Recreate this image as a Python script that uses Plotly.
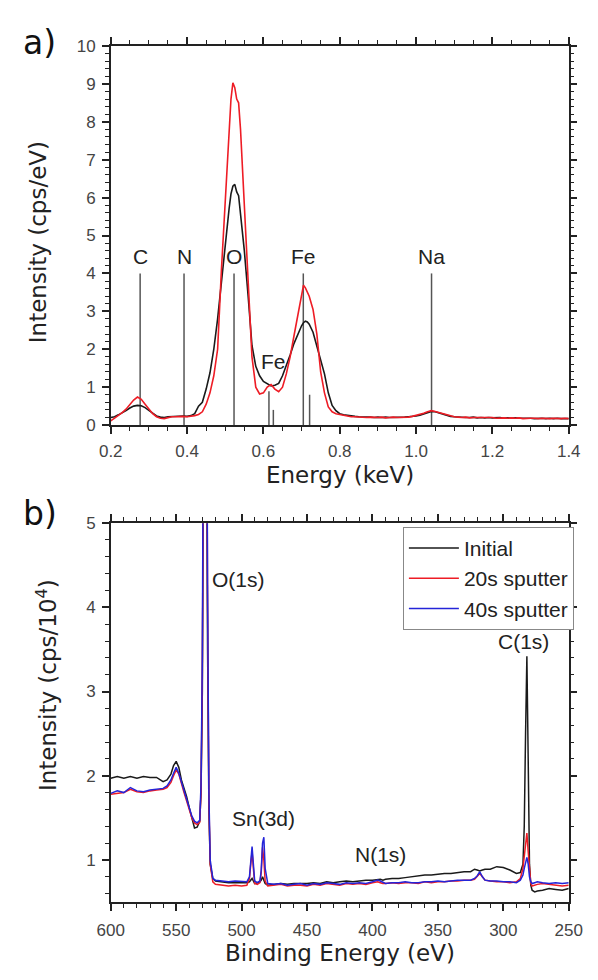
import plotly.graph_objects as go

# ---------------- (a) EDS spectrum ----------------
energy_kev = [
    0.20, 0.21, 0.22, 0.23, 0.24, 0.25, 0.26, 0.27, 0.28, 0.29,
    0.30, 0.31, 0.32, 0.33, 0.34, 0.35, 0.36, 0.37, 0.38, 0.39,
    0.40, 0.41, 0.42, 0.43, 0.44, 0.45, 0.46, 0.47, 0.48, 0.49,
    0.50, 0.51, 0.515, 0.52, 0.525, 0.53, 0.535, 0.54, 0.55, 0.56,
    0.57, 0.58, 0.59, 0.60, 0.61, 0.62, 0.63, 0.64, 0.65, 0.66,
    0.67, 0.68, 0.69, 0.70, 0.705, 0.71, 0.715, 0.72, 0.73, 0.74,
    0.75, 0.76, 0.77, 0.78, 0.79, 0.80, 0.81, 0.82, 0.83, 0.84,
    0.85, 0.86, 0.87, 0.88, 0.89, 0.90, 0.91, 0.92, 0.93, 0.94,
    0.95, 0.96, 0.97, 0.98, 0.99, 1.00, 1.01, 1.02, 1.03, 1.04,
    1.05, 1.06, 1.07, 1.08, 1.09, 1.10, 1.11, 1.12, 1.13, 1.14,
    1.15, 1.16, 1.17, 1.18, 1.19, 1.20, 1.21, 1.22, 1.23, 1.24,
    1.25, 1.26, 1.27, 1.28, 1.29, 1.30, 1.31, 1.32, 1.33, 1.34,
    1.35, 1.36, 1.37, 1.38, 1.39, 1.40,
]
eds_black = [
    0.20, 0.22, 0.27, 0.32, 0.38, 0.45, 0.50, 0.52, 0.51, 0.46,
    0.38, 0.30, 0.24, 0.21, 0.20, 0.22, 0.23, 0.22, 0.24, 0.24,
    0.23, 0.25, 0.30, 0.50, 0.60, 0.95, 1.38, 2.00, 2.80, 3.80,
    4.80, 5.70, 6.10, 6.30, 6.35, 6.15, 6.05, 5.60, 4.60, 3.40,
    2.10, 1.55, 1.30, 1.15, 1.08, 1.03, 1.05, 1.10, 1.30, 1.55,
    1.85, 2.15, 2.40, 2.62, 2.70, 2.74, 2.72, 2.66, 2.45, 2.10,
    1.75, 1.35, 0.85, 0.52, 0.38, 0.30, 0.27, 0.25, 0.24, 0.23,
    0.22, 0.22, 0.21, 0.21, 0.20, 0.21, 0.20, 0.21, 0.20, 0.20,
    0.21, 0.20, 0.21, 0.22, 0.22, 0.24, 0.26, 0.29, 0.33, 0.36,
    0.35, 0.32, 0.28, 0.25, 0.23, 0.22, 0.21, 0.21, 0.20, 0.20,
    0.21, 0.19, 0.20, 0.19, 0.20, 0.19, 0.19, 0.20, 0.18, 0.19,
    0.18, 0.19, 0.18, 0.18, 0.19, 0.18, 0.17, 0.18, 0.18, 0.17,
    0.18, 0.17, 0.18, 0.17, 0.17, 0.17,
]
eds_red = [
    0.11, 0.18, 0.25, 0.33, 0.42, 0.55, 0.66, 0.74, 0.68, 0.55,
    0.42, 0.30, 0.22, 0.18, 0.17, 0.20, 0.22, 0.22, 0.23, 0.23,
    0.22, 0.23, 0.25, 0.28, 0.35, 0.55, 0.85, 1.30, 2.00, 4.10,
    6.00, 7.80, 8.60, 9.03, 8.90, 8.60, 8.50, 7.80, 5.90, 3.80,
    1.80, 1.00, 0.82, 0.85, 1.00, 1.07, 0.95, 0.88, 1.00, 1.35,
    1.80, 2.35, 2.90, 3.45, 3.69, 3.62, 3.50, 3.40, 3.05, 2.40,
    1.40, 0.85, 0.48, 0.35, 0.30, 0.28, 0.25, 0.23, 0.22, 0.22,
    0.21, 0.21, 0.20, 0.21, 0.20, 0.20, 0.21, 0.19, 0.20, 0.21,
    0.20, 0.20, 0.21, 0.21, 0.23, 0.25, 0.27, 0.31, 0.35, 0.38,
    0.36, 0.33, 0.29, 0.26, 0.23, 0.22, 0.21, 0.20, 0.21, 0.19,
    0.20, 0.20, 0.19, 0.20, 0.19, 0.20, 0.18, 0.19, 0.19, 0.18,
    0.19, 0.18, 0.19, 0.17, 0.18, 0.18, 0.18, 0.17, 0.18, 0.17,
    0.17, 0.18, 0.17, 0.17, 0.18, 0.17,
]

# characteristic X-ray line markers (position keV, marker height)
line_pos = [0.277, 0.392, 0.523, 0.6145, 0.626, 0.7045, 0.721, 1.0405]
line_height = [4.0, 4.0, 4.0, 0.89, 0.40, 4.0, 0.80, 4.0]
line_labels = ["C", "N", "O", "Fe", "Fe", "Na"]
label_x = [0.277, 0.392, 0.523, 0.6275, 0.7045, 1.0405]
label_y = [4.45, 4.45, 4.45, 1.68, 4.45, 4.45]

# ---------------- (b) XPS survey ----------------
binding_ev = [
    600, 595, 590, 585, 580, 575, 570, 565, 560, 557,
    554, 552, 550, 548, 546, 544, 542, 540, 538, 536,
    534, 532, 531, 530, 529, 528, 527, 526, 525, 524,
    522, 520, 515, 510, 505, 500, 496, 494, 493, 492,
    491, 490, 488, 486, 485, 484, 483, 482, 480, 475,
    470, 465, 460, 455, 450, 445, 440, 435, 430, 425,
    420, 415, 410, 405, 400, 396, 394, 392, 390, 385,
    380, 375, 370, 365, 360, 355, 350, 345, 340, 335,
    330, 325, 322, 320, 318, 316, 314, 310, 305, 300,
    295, 290, 287, 285, 284, 283, 282, 281, 280, 279,
    278, 276, 274, 270, 265, 260, 255, 250,
]
xps_initial = [
    1.97, 1.99, 1.97, 1.99, 1.97, 1.99, 1.98, 1.98, 1.93, 1.95,
    2.02, 2.12, 2.17, 2.10, 1.95, 1.85, 1.75, 1.62, 1.48, 1.38,
    1.39, 1.46, 1.80, 3.00, 6.50, 9.00, 7.00, 3.50, 1.60, 0.95,
    0.78, 0.75, 0.74, 0.73, 0.73, 0.73, 0.73, 0.74, 0.76, 0.78,
    0.75, 0.72, 0.73, 0.74, 0.76, 0.80, 0.76, 0.72, 0.70, 0.71,
    0.72, 0.71, 0.72, 0.72, 0.72, 0.73, 0.72, 0.74, 0.73, 0.74,
    0.75, 0.74, 0.75, 0.76, 0.76, 0.77, 0.77, 0.76, 0.77, 0.78,
    0.78, 0.79, 0.80, 0.81, 0.82, 0.82, 0.83, 0.84, 0.84, 0.85,
    0.86, 0.86, 0.89, 0.88, 0.87, 0.88, 0.89, 0.89, 0.92, 0.91,
    0.88, 0.84, 0.85, 0.95, 1.40, 2.50, 3.42, 2.20, 0.95, 0.70,
    0.64, 0.62, 0.63, 0.64, 0.66, 0.65, 0.64, 0.66,
]
xps_20s = [
    1.78, 1.79, 1.80, 1.84, 1.81, 1.80, 1.82, 1.83, 1.84, 1.86,
    1.92, 2.00, 2.07, 2.02, 1.90, 1.80, 1.70, 1.60, 1.50, 1.44,
    1.42, 1.45, 1.80, 3.20, 7.00, 10.0, 8.00, 4.00, 1.70, 0.95,
    0.74, 0.71, 0.70, 0.69, 0.70, 0.69, 0.70, 0.78, 0.95, 1.10,
    0.90, 0.72, 0.71, 0.73, 0.85, 1.15, 1.00, 0.75, 0.69, 0.70,
    0.71, 0.69, 0.70, 0.70, 0.69, 0.71, 0.70, 0.72, 0.71, 0.70,
    0.72, 0.71, 0.72, 0.71, 0.73, 0.74, 0.73, 0.72, 0.72, 0.73,
    0.72, 0.73, 0.73, 0.72, 0.74, 0.73, 0.74, 0.74, 0.75, 0.75,
    0.76, 0.76, 0.77, 0.80, 0.84, 0.80, 0.76, 0.75, 0.74, 0.74,
    0.73, 0.74, 0.78, 0.90, 1.05, 1.20, 1.32, 1.10, 0.85, 0.72,
    0.69, 0.70, 0.71, 0.72, 0.71, 0.70, 0.69, 0.70,
]
xps_40s = [
    1.79, 1.82, 1.80, 1.86, 1.82, 1.81, 1.83, 1.84, 1.85, 1.88,
    1.95, 2.03, 2.10, 2.03, 1.92, 1.82, 1.72, 1.62, 1.52, 1.46,
    1.44, 1.47, 1.90, 3.40, 7.50, 11.0, 8.50, 4.20, 1.80, 1.00,
    0.78, 0.76, 0.75, 0.74, 0.75, 0.74, 0.74, 0.80, 1.00, 1.16,
    0.95, 0.75, 0.73, 0.75, 0.88, 1.20, 1.27, 0.90, 0.72, 0.71,
    0.72, 0.70, 0.71, 0.72, 0.70, 0.72, 0.71, 0.73, 0.72, 0.71,
    0.73, 0.72, 0.73, 0.72, 0.74, 0.76, 0.75, 0.73, 0.72, 0.73,
    0.73, 0.74, 0.73, 0.73, 0.74, 0.74, 0.75, 0.74, 0.75, 0.76,
    0.76, 0.76, 0.78, 0.81, 0.86, 0.80, 0.76, 0.75, 0.75, 0.74,
    0.74, 0.73, 0.76, 0.82, 0.90, 0.98, 1.03, 0.95, 0.80, 0.74,
    0.72, 0.73, 0.74, 0.73, 0.72, 0.73, 0.72, 0.73,
]
xps_names = ["Initial", "20s sputter", "40s sputter"]
peak_labels = ["O(1s)", "Sn(3d)", "N(1s)", "C(1s)"]
peak_x = [502.0, 483.2, 393.9, 284.5]
peak_y = [4.33, 1.49, 1.07, 3.60]

BLACK = "#1a1a1a"
RED = "#ee1c25"
BLUE = "#2424d8"
AXIS = "#222222"
TICKFONT = dict(family="Liberation Sans, Arial, sans-serif", size=17, color="#444444")
LABELFONT = dict(family="Liberation Sans, Arial, sans-serif", size=21, color="#222222")
TITLEFONT = dict(family="DejaVu Sans, sans-serif", size=23, color="#222222")

fig = go.Figure()

# vertical element markers, one trace with gaps
vx, vy = [], []
for p, h in zip(line_pos, line_height):
    vx += [p, p, None]
    vy += [0, h, None]
fig.add_trace(go.Scatter(x=vx, y=vy, mode="lines", line=dict(color="#555555", width=1.5),
                         showlegend=False, hoverinfo="skip", xaxis="x", yaxis="y"))
fig.add_trace(go.Scatter(x=energy_kev, y=eds_black, mode="lines",
                         line=dict(color=BLACK, width=1.6), showlegend=False,
                         xaxis="x", yaxis="y"))
fig.add_trace(go.Scatter(x=energy_kev, y=eds_red, mode="lines",
                         line=dict(color=RED, width=1.6), showlegend=False,
                         xaxis="x", yaxis="y"))

for name, vals, col in zip(xps_names, [xps_initial, xps_20s, xps_40s], [BLACK, RED, BLUE]):
    fig.add_trace(go.Scatter(x=binding_ev, y=vals, mode="lines", name=name,
                             line=dict(color=col, width=1.5),
                             xaxis="x2", yaxis="y2"))


def axis_style(minor_step, **kw):
    base = dict(showline=True, linecolor=AXIS, linewidth=1.5, mirror="allticks",
                ticks="outside", ticklen=7, tickwidth=1.6, tickcolor=AXIS,
                showgrid=False, zeroline=False, tickfont=TICKFONT,
                ticklabelstandoff=3,
                minor=dict(ticks="outside", ticklen=4, tickwidth=1.3, tickcolor=AXIS,
                           dtick=minor_step))
    base.update(kw)
    return base


X_DOM = [101.5 / 598, 582 / 598]
fig.update_layout(
    width=598, height=980,
    margin=dict(l=0, r=0, t=0, b=0),
    paper_bgcolor="white", plot_bgcolor="white",
    xaxis=axis_style(0.05, domain=X_DOM, anchor="y", range=[0.2, 1.4], tick0=0.2,
                     dtick=0.2, tickformat=".1f"),
    yaxis=axis_style(0.2, domain=[1 - 424.3 / 980, 1 - 37.7 / 980], anchor="x",
                     range=[0, 10], tick0=0, dtick=1),
    xaxis2=axis_style(10, domain=X_DOM, anchor="y2", range=[600, 250], tick0=0, dtick=50,
                      ticklabelstandoff=5),
    yaxis2=axis_style(0.2, domain=[1 - 910.7 / 980, 1 - 524.3 / 980], anchor="x2",
                      range=[0.5, 5], tick0=0, dtick=1),
    legend=dict(x=408 / 598, y=1 - 528 / 980, xanchor="left", yanchor="top",
                bgcolor="white", bordercolor="#888888", borderwidth=1,
                font=dict(family="Liberation Sans, Arial, sans-serif", size=21, color="#222222"),
                tracegroupgap=0, itemwidth=50),
)

ann = []
for t, x, y in zip(line_labels, label_x, label_y):
    ann.append(dict(text=t, x=x, y=y, xref="x", yref="y", showarrow=False,
                    font=LABELFONT, xanchor="center", yanchor="middle"))
for t, x, y in zip(peak_labels, peak_x, peak_y):
    ann.append(dict(text=t, x=x, y=y, xref="x2", yref="y2", showarrow=False,
                    font=LABELFONT, xanchor="center", yanchor="middle"))

# axis titles and panel letters
ann += [
    dict(text="Energy (keV)", x=342 / 598, y=1 - 475 / 980, xref="paper", yref="paper",
         showarrow=False, font=TITLEFONT, xanchor="center", yanchor="middle"),
    dict(text="Intensity (cps/eV)", x=26 / 598, y=1 - 238 / 980, xref="paper", yref="paper",
         showarrow=False, font=TITLEFONT, textangle=-90, xanchor="center", yanchor="middle"),
    dict(text="Binding Energy (eV)", x=342 / 598, y=1 - 963 / 980, xref="paper", yref="paper",
         showarrow=False, font=TITLEFONT, xanchor="center", yanchor="middle"),
    dict(text="Intensity (cps/10<sup>4</sup>)", x=34 / 598, y=1 - 689 / 980, xref="paper",
         yref="paper", showarrow=False, font=TITLEFONT, textangle=-90,
         xanchor="center", yanchor="middle"),
    dict(text="a)", x=27 / 598, y=1 - 34 / 980, xref="paper", yref="paper", showarrow=False,
         font=dict(family="DejaVu Sans, sans-serif", size=33, color="#111111"),
         xanchor="center", yanchor="middle"),
    dict(text="b)", x=27 / 598, y=1 - 514 / 980, xref="paper", yref="paper", showarrow=False,
         font=dict(family="DejaVu Sans, sans-serif", size=33, color="#111111"),
         xanchor="center", yanchor="middle"),
]
fig.update_layout(annotations=ann)

fig.write_html("out.html")
